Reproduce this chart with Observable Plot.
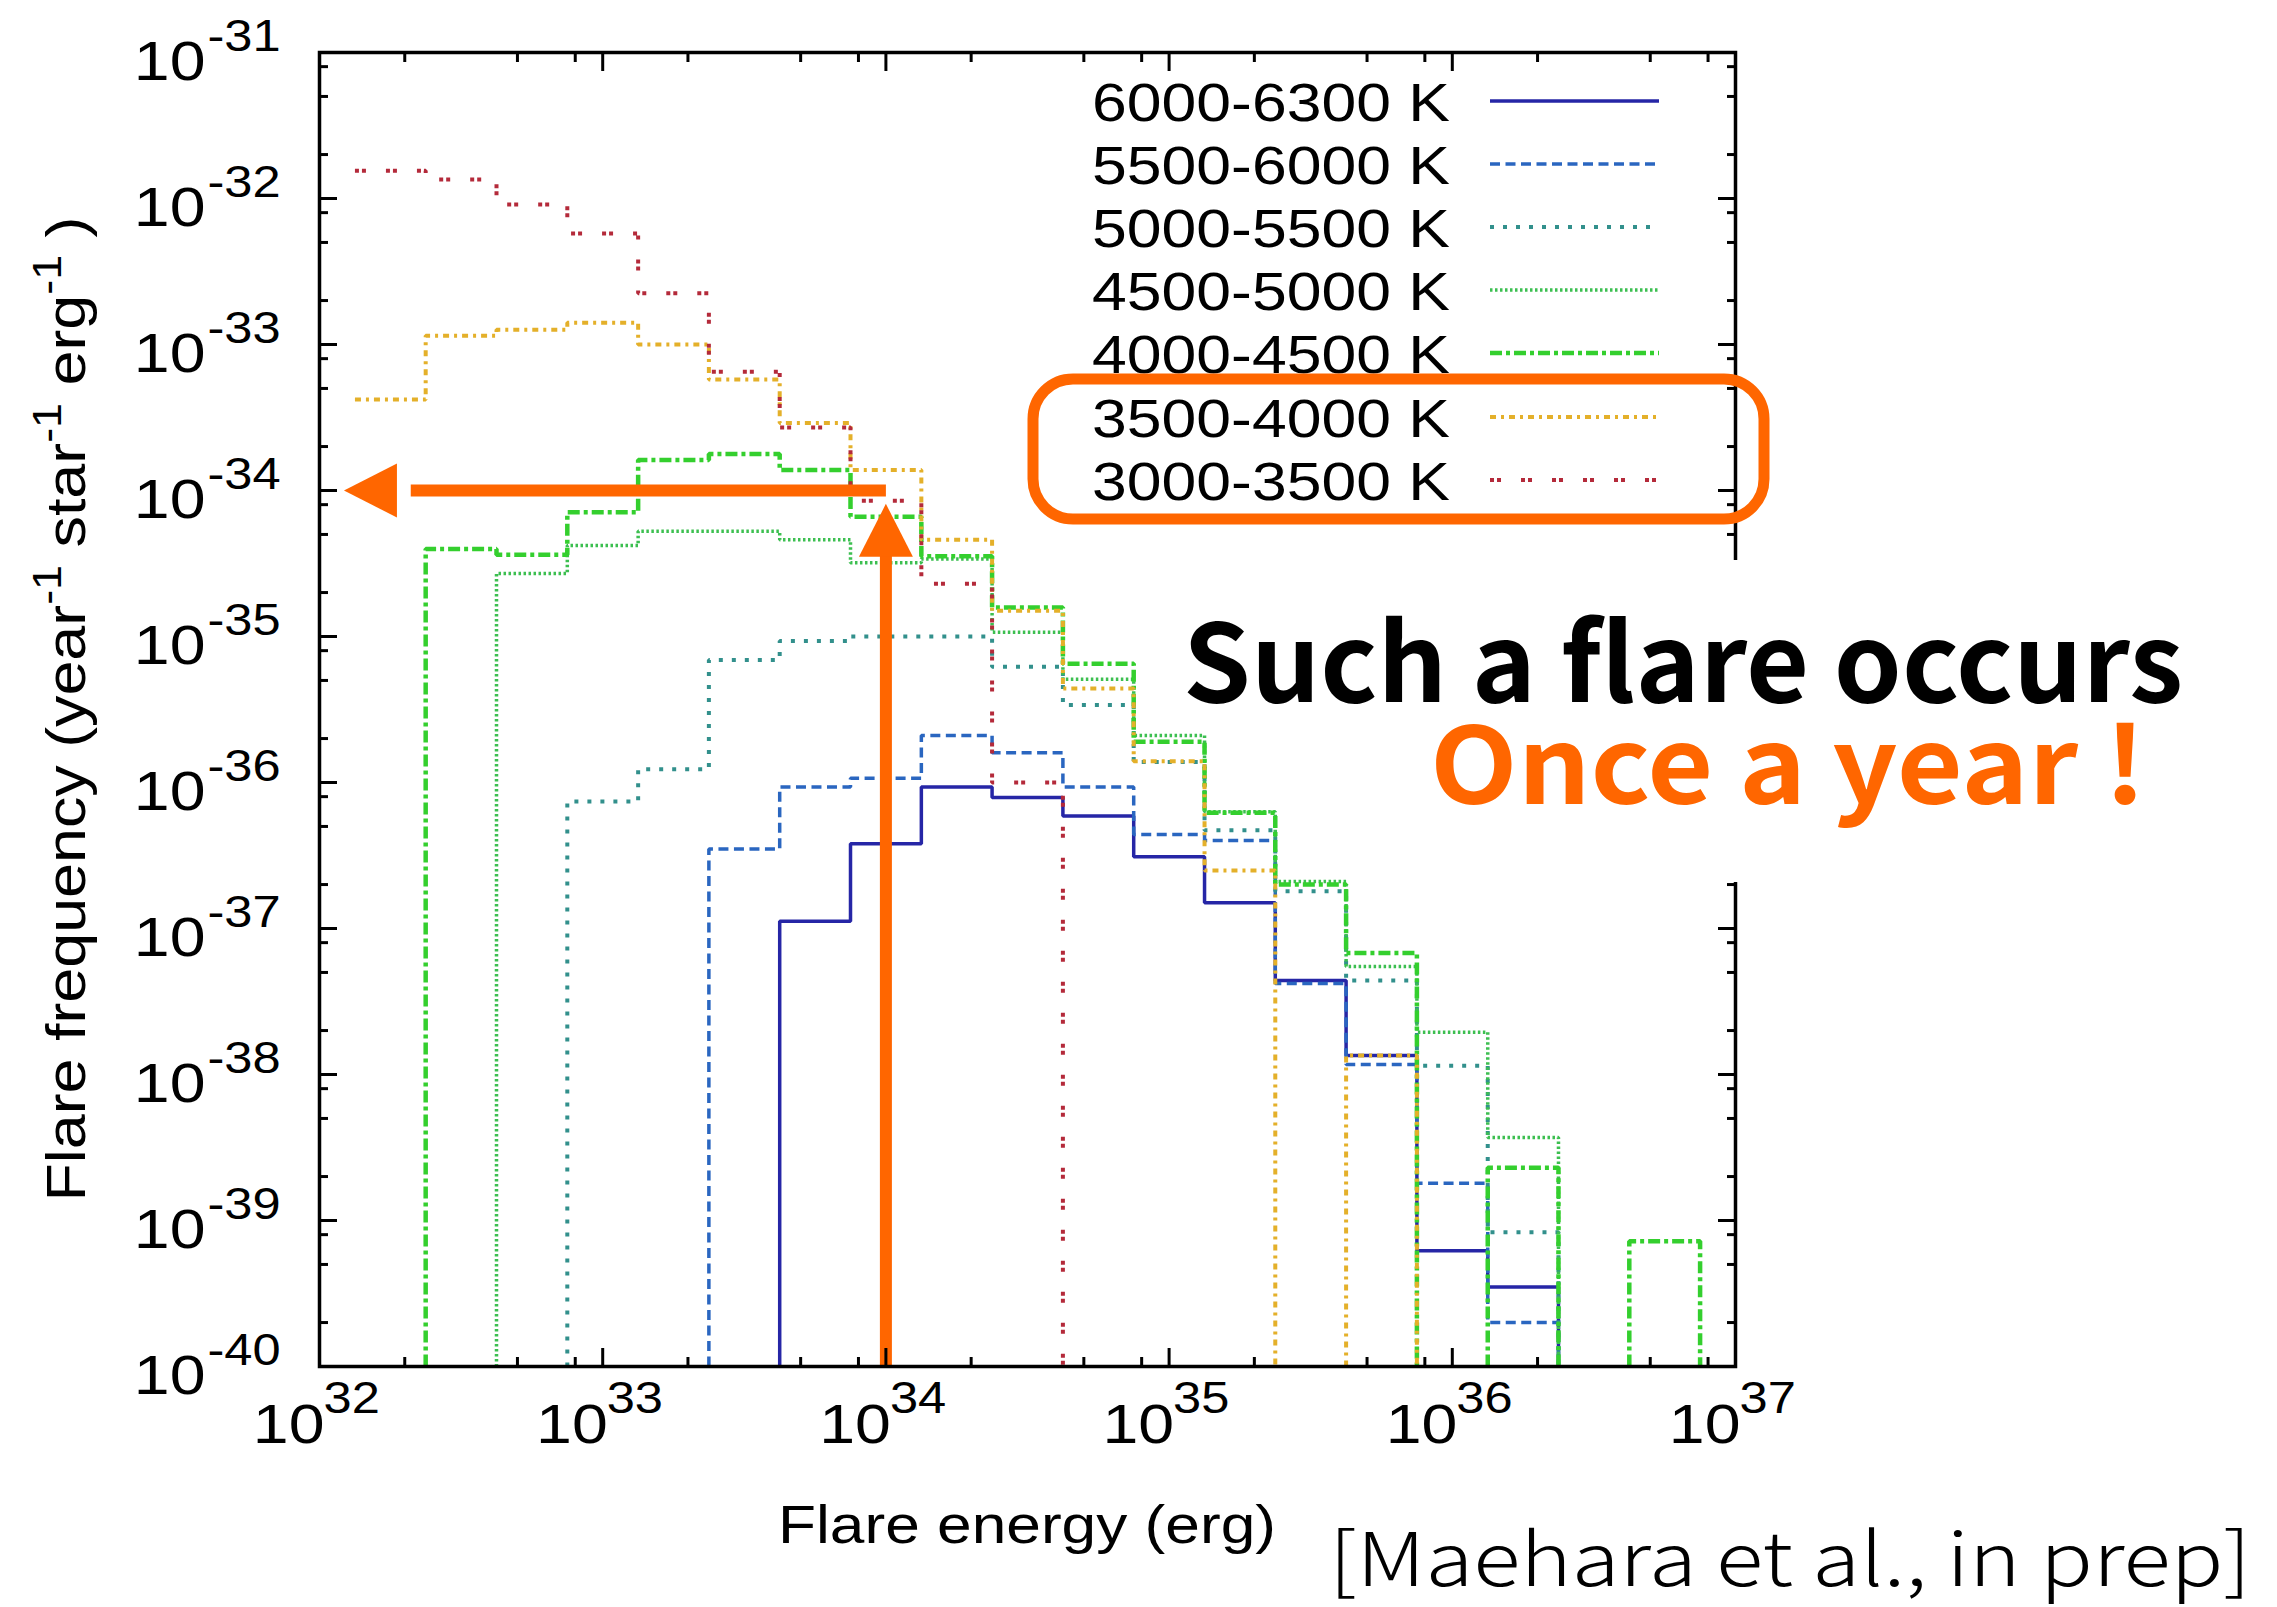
<!DOCTYPE html>
<html><head><meta charset="utf-8">
<script src="https://cdn.jsdelivr.net/npm/d3@7"></script>
<script src="https://cdn.jsdelivr.net/npm/@observablehq/plot@0.6"></script>
<style>
html,body{margin:0;padding:0;background:#fff;}
#wrap{position:relative;width:2277px;height:1607px;overflow:hidden;}
</style></head><body><div id="wrap"></div>
<script>
// ---- data ----
const binEdges = [1.334e32, 2.371e32, 4.217e32, 7.499e32, 1.334e33, 2.371e33, 4.217e33, 7.499e33,
  1.334e34, 2.371e34, 4.217e34, 7.499e34, 1.334e35, 2.371e35, 4.217e35, 7.499e35,
  1.334e36, 2.371e36, 4.217e36, 7.499e36];
const seriesNames = ["6000-6300 K", "5500-6000 K", "5000-5500 K", "4500-5000 K", "4000-4500 K", "3500-4000 K", "3000-3500 K"];
const freq6000_6300 = [null, null, null, null, null, null, 1.12e-37, 3.8e-37, 9.3e-37, 7.9e-37, 5.9e-37, 3.1e-37, 1.5e-37, 4.4e-38, 1.35e-38, 6.2e-40, 3.5e-40, null, null];
const freq5500_6000 = [null, null, null, null, null, 3.5e-37, 9.3e-37, 1.07e-36, 2.1e-36, 1.6e-36, 9.3e-37, 4.4e-37, 4.0e-37, 4.2e-38, 1.17e-38, 1.8e-39, 2.0e-40, null, null];
const freq5000_5500 = [null, null, null, 7.4e-37, 1.23e-36, 6.9e-36, 9.3e-36, 1.0e-35, 1.0e-35, 6.2e-36, 3.4e-36, 1.38e-36, 4.7e-37, 1.8e-37, 4.4e-38, 1.15e-38, 8.3e-40, null, null];
const freq4500_5000 = [null, null, 2.7e-35, 4.2e-35, 5.25e-35, 5.25e-35, 4.6e-35, 3.2e-35, 3.4e-35, 1.07e-35, 5.1e-36, 2.1e-36, 6.3e-37, 2.1e-37, 5.5e-38, 1.95e-38, 3.7e-39, null, null];
const freq4000_4500 = [null, 3.98e-35, 3.63e-35, 7.1e-35, 1.62e-34, 1.78e-34, 1.38e-34, 6.6e-35, 3.55e-35, 1.58e-35, 6.5e-36, 1.9e-36, 6.2e-37, 2.0e-37, 6.8e-38, null, 2.3e-39, null, 7.2e-40];
const freq3500_4000 = [4.2e-34, 1.15e-33, 1.26e-33, 1.41e-33, 1.0e-33, 5.75e-34, 2.9e-34, 1.38e-34, 4.6e-35, 1.5e-35, 4.4e-36, 1.4e-36, 2.5e-37, null, 1.35e-38, null, null, null, null];
const freq3000_3500 = [1.55e-32, 1.35e-32, 9.1e-33, 5.75e-33, 2.24e-33, 6.5e-34, 2.7e-34, 8.5e-35, 2.3e-35, 1.0e-36, null, null, null, null, null, null, null, null, null];
const xMajorTicks = [1e32, 1e33, 1e34, 1e35, 1e36, 1e37];
const xMinorTicks = [2e32, 5e32, 8e32, 2e33, 5e33, 8e33, 2e34, 5e34, 8e34, 2e35, 5e35, 8e35, 2e36, 5e36, 8e36];
const yMajorTicks = [1e-31, 1e-32, 1e-33, 1e-34, 1e-35, 1e-36, 1e-37, 1e-38, 1e-39, 1e-40];
const yMinorTicks = [2e-32, 5e-32, 8e-32, 2e-33, 5e-33, 8e-33, 2e-34, 5e-34, 8e-34, 2e-35, 5e-35, 8e-35, 2e-36, 5e-36, 8e-36, 2e-37, 5e-37, 8e-37, 2e-38, 5e-38, 8e-38, 2e-39, 5e-39, 8e-39, 2e-40, 5e-40, 8e-40];
// annotation arrows (data coordinates): x = 1e34 erg, y = 1e-34
const arrowUp = {x: 1e34, yFrom: 1e-40, yTo: 3.9e-35, tip: 8.1e-35};
const arrowLeft = {y: 1e-34, xFrom: 1e34, xTo: 2.1e32, tip: 1.22e32};

const seriesValues = [freq6000_6300, freq5500_6000, freq5000_5500, freq4500_5000, freq4000_4500, freq3500_4000, freq3000_3500];
const seriesStyles = [
  {stroke: "#2626a6", width: 3.5, dash: null},
  {stroke: "#2a66c0", width: 3.5, dash: "10,5.5"},
  {stroke: "#32908c", width: 4, dash: "4,9"},
  {stroke: "#3cbf50", width: 3.5, dash: "2.5,2.5"},
  {stroke: "#34cf2e", width: 4.5, dash: "12,4,4,4"},
  {stroke: "#e4b02a", width: 4, dash: "6,5,3,5"},
  {stroke: "#b42a3a", width: 4, dash: "4,3,4,20"}
];
const FLOOR = 1e-40;

function stepPoints(vals) {
  const pts = []; let seg = 0, open = false;
  for (let i = 0; i < vals.length; i++) {
    const v = vals[i];
    if (v == null) { if (open) { pts.push({x: binEdges[i], y: FLOOR, seg}); seg++; open = false; } continue; }
    if (!open && i > 0) pts.push({x: binEdges[i], y: FLOOR, seg});
    open = true;
    pts.push({x: binEdges[i], y: v, seg}, {x: binEdges[i + 1], y: v, seg});
  }
  if (open) pts.push({x: binEdges[vals.length], y: FLOOR, seg});
  return pts;
}

const headUp = {draw(ctx) { ctx.moveTo(0, 0); ctx.lineTo(27, 53); ctx.lineTo(-27, 53); ctx.closePath(); }};
const headLeft = {draw(ctx) { ctx.moveTo(0, 0); ctx.lineTo(53, -27); ctx.lineTo(53, 27); ctx.closePath(); }};
const ORANGE = "#ff6600";
const FONT = "'Liberation Sans', Arial, Helvetica, sans-serif";

const lineMarks = seriesValues.map((vals, i) => Plot.line(stepPoints(vals), {
  x: "x", y: "y", z: "seg", stroke: seriesStyles[i].stroke, strokeWidth: seriesStyles[i].width,
  strokeDasharray: seriesStyles[i].dash, strokeLinejoin: "miter", strokeLinecap: "butt"
}));

const plot = Plot.plot({
  width: 2277, height: 1607,
  marginLeft: 319, marginRight: 542, marginTop: 52, marginBottom: 241,
  x: {type: "log", domain: [1e32, 1e37]},
  y: {type: "log", domain: [1e-40, 1e-31]},
  style: {fontFamily: FONT, background: "white", color: "black"},
  marks: [
    ...lineMarks,
    Plot.link([arrowUp], {x1: "x", x2: "x", y1: "yFrom", y2: "yTo", stroke: ORANGE, strokeWidth: 12}),
    Plot.link([arrowLeft], {y1: "y", y2: "y", x1: "xFrom", x2: "xTo", stroke: ORANGE, strokeWidth: 12}),
    Plot.dot([arrowUp], {x: "x", y: "tip", symbol: headUp, fill: ORANGE, stroke: null}),
    Plot.dot([arrowLeft], {x: "tip", y: "y", symbol: headLeft, fill: ORANGE, stroke: null}),
    Plot.frame({stroke: "black", strokeWidth: 3.5}),
    Plot.axisX({anchor: "bottom", ticks: xMajorTicks, tickSize: -18, strokeWidth: 3, tickFormat: () => "", label: null}),
    Plot.axisX({anchor: "top", ticks: xMajorTicks, tickSize: -18, strokeWidth: 3, tickFormat: () => "", label: null}),
    Plot.axisX({anchor: "bottom", ticks: xMinorTicks, tickSize: -9, strokeWidth: 3, tickFormat: () => "", label: null}),
    Plot.axisX({anchor: "top", ticks: xMinorTicks, tickSize: -9, strokeWidth: 3, tickFormat: () => "", label: null}),
    Plot.axisY({anchor: "left", ticks: yMajorTicks, tickSize: -18, strokeWidth: 3, tickFormat: () => "", label: null}),
    Plot.axisY({anchor: "right", ticks: yMajorTicks, tickSize: -18, strokeWidth: 3, tickFormat: () => "", label: null}),
    Plot.axisY({anchor: "left", ticks: yMinorTicks, tickSize: -9, strokeWidth: 3, tickFormat: () => "", label: null}),
    Plot.axisY({anchor: "right", ticks: yMinorTicks, tickSize: -9, strokeWidth: 3, tickFormat: () => "", label: null}),
    // tick labels 10^n
    Plot.text(yMajorTicks, {y: d => d, text: () => "10", frameAnchor: "left", textAnchor: "end", dx: -114, dy: 10, fontSize: 56, fill: "black"}),
    Plot.text(yMajorTicks, {y: d => d, text: d => String(Math.round(Math.log10(d))), frameAnchor: "left", textAnchor: "start", dx: -112, dy: -16, fontSize: 44, fill: "black"}),
    Plot.text(xMajorTicks, {x: d => d, text: () => "10", frameAnchor: "bottom", textAnchor: "end", dx: 5, dy: 76, fontSize: 56, fill: "black"}),
    Plot.text(xMajorTicks, {x: d => d, text: d => String(Math.round(Math.log10(d))), frameAnchor: "bottom", textAnchor: "start", dx: 4, dy: 46, fontSize: 44, fill: "black"})
  ]
});

const wrap = document.getElementById("wrap");
wrap.appendChild(plot);
const svg = d3.select(plot);

// stretch the gnuplot tick labels horizontally like the reference
svg.selectAll('g[aria-label="text"] text').each(function() {
  const L = this.getComputedTextLength();
  this.setAttribute("textLength", L * 1.15);
  this.setAttribute("lengthAdjust", "spacingAndGlyphs");
});

const over = svg.append("g").attr("font-family", FONT).attr("text-anchor", "start");

// axis titles
const yt = over.append("text").attr("transform", "translate(85,709) rotate(-90)")
  .attr("text-anchor", "middle").attr("font-size", 56).attr("fill", "black");
[["Flare frequency (year", 0], ["-1", 1], [" star", 0], ["-1", 1], [" erg", 0], ["-1", 1], [" )", 0]].forEach(([t, sup]) => {
  yt.append("tspan").attr("font-size", sup ? 40 : 56).attr("baseline-shift", sup ? "60%" : null).text(t);
});
yt.attr("textLength", 985).attr("lengthAdjust", "spacingAndGlyphs");

over.append("text").attr("x", 1027).attr("y", 1543).attr("text-anchor", "middle")
  .attr("font-size", 53).attr("textLength", 498).attr("lengthAdjust", "spacingAndGlyphs").text("Flare energy (erg)");

// legend (inside frame, top-right)
const legendY = [101, 164, 227, 290, 353, 417, 480];
seriesNames.forEach((name, i) => {
  over.append("text").attr("x", 1450).attr("y", legendY[i] + 20).attr("text-anchor", "end")
    .attr("font-size", 54).attr("textLength", 358).attr("lengthAdjust", "spacingAndGlyphs").text(name);
  over.append("line").attr("x1", 1490).attr("x2", 1659).attr("y1", legendY[i]).attr("y2", legendY[i])
    .attr("stroke", seriesStyles[i].stroke).attr("stroke-width", seriesStyles[i].width)
    .attr("stroke-dasharray", seriesStyles[i].dash);
});

// orange rounded box around the two coolest classes
over.append("rect").attr("x", 1033).attr("y", 379).attr("width", 731).attr("height", 140)
  .attr("rx", 40).attr("fill", "none").attr("stroke", ORANGE).attr("stroke-width", 11);

// white panel behind the statement
over.append("rect").attr("x", 1420).attr("y", 560).attr("width", 760).attr("height", 322).attr("fill", "white");

const CJK = "'Noto Sans CJK JP', 'Noto Sans', sans-serif";
over.append("text").attr("x", 1183).attr("y", 702).attr("text-anchor", "start").attr("font-family", CJK).attr("font-weight", 700)
  .attr("font-size", 108).attr("textLength", 1000).attr("lengthAdjust", "spacingAndGlyphs").attr("fill", "black").text("Such a flare occurs");
over.append("text").attr("x", 1430).attr("y", 804).attr("text-anchor", "start").attr("font-family", CJK).attr("font-weight", 700)
  .attr("font-size", 106).attr("textLength", 716).attr("lengthAdjust", "spacingAndGlyphs").attr("fill", ORANGE).text("Once a year !");
over.append("text").attr("x", 1329).attr("y", 1586).attr("text-anchor", "start").attr("font-family", CJK).attr("font-weight", 300)
  .attr("font-size", 74).attr("textLength", 922).attr("lengthAdjust", "spacingAndGlyphs").attr("fill", "black").text("[Maehara et al., in prep]");
</script></body></html>
